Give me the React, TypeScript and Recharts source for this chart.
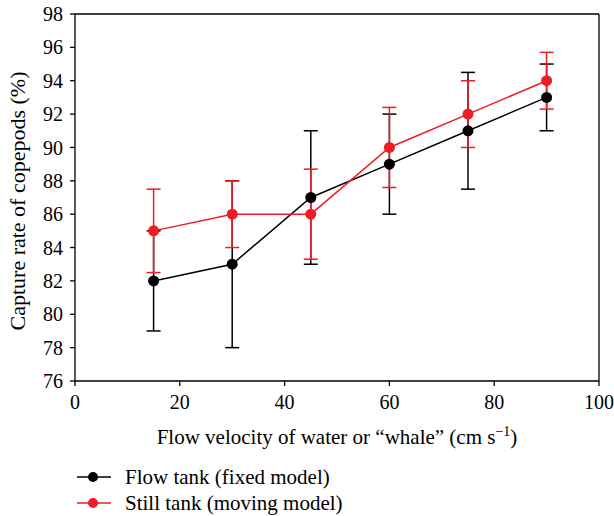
import {
  LineChart,
  Line,
  XAxis,
  YAxis,
  ErrorBar,
  Legend,
  ReferenceLine,
} from 'recharts';

const FONT = '"Liberation Serif", "Times New Roman", serif';
const RED = '#ee1c25';

// flow velocity (cm/s)
const velocities = [15, 30, 45, 60, 75, 90];
// capture rate (%) and +/- error
const flowTank = [82, 83, 87, 89, 91, 93];
const flowTankErr = [3, 5, 4, 3, 3.5, 2];
const stillTank = [85, 86, 86, 90, 92, 94];
const stillTankErr = [2.5, 2, 2.7, 2.4, 2, 1.7];

const xTicks = [0, 20, 40, 60, 80, 100];
const yTicks = [76, 78, 80, 82, 84, 86, 88, 90, 92, 94, 96, 98];

const data = velocities.map((v, i) => ({
  v,
  flow: flowTank[i],
  flowErr: flowTankErr[i],
  still: stillTank[i],
  stillErr: stillTankErr[i],
}));

const tickStyle = { fill: '#000', fontSize: 20, fontFamily: FONT };

function XLabel(props: any) {
  const { viewBox } = props;
  const cx = viewBox.x + viewBox.width / 2;
  return (
    <text x={cx} y={444} textAnchor="middle" fontSize={21} fontFamily={FONT} fill="#000">
      Flow velocity of water or “whale” (cm s
      <tspan fontSize={14} dy={-8}>−1</tspan>
      <tspan dy={8}>)</tspan>
    </text>
  );
}

function YLabel() {
  const cy = 201;
  return (
    <text
      x={25}
      y={cy}
      transform={`rotate(-90, 25, ${cy})`}
      textAnchor="middle"
      fontSize={22}
      fontFamily={FONT}
      fill="#000"
    >
      Capture rate of copepods (%)
    </text>
  );
}

function LegendContent(props: any) {
  const { payload } = props;
  return (
    <div style={{ fontFamily: FONT, fontSize: 21, color: '#000' }}>
      {(payload || []).map((p: any) => (
        <div key={p.value} style={{ display: 'flex', alignItems: 'center', height: 26 }}>
          <svg width={36} height={12}>
            <line x1={0} x2={34} y1={6} y2={6} stroke={p.color} strokeWidth={1.5} />
            <circle cx={16} cy={6} r={5} fill={p.color} />
          </svg>
          <span style={{ marginLeft: 12 }}>{p.value}</span>
        </div>
      ))}
    </div>
  );
}

export default function App() {
  return (
    <div style={{ position: 'absolute', left: 0, top: 0 }}>
      <LineChart width={614} height={516} data={data} margin={{ top: 14, right: 15, bottom: 0, left: 0 }}>
        <XAxis
          dataKey="v"
          type="number"
          domain={[0, 100]}
          ticks={xTicks}
          height={135}
          tickSize={5}
          tickMargin={9}
          tick={tickStyle}
          axisLine={{ stroke: '#000', strokeWidth: 1.3 }}
          tickLine={{ stroke: '#000', strokeWidth: 1.3 }}
          label={<XLabel />}
        />
        <YAxis
          type="number"
          domain={[76, 98]}
          ticks={yTicks}
          width={75}
          tickSize={5}
          tickMargin={7}
          tick={tickStyle}
          axisLine={{ stroke: '#000', strokeWidth: 1.3 }}
          tickLine={{ stroke: '#000', strokeWidth: 1.3 }}
          label={<YLabel />}
        />
        <ReferenceLine y={98} stroke="#000" strokeWidth={1.3} />
        <ReferenceLine x={100} stroke="#000" strokeWidth={1.3} />
        <Line
          dataKey="flow"
          name="Flow tank (fixed model)"
          stroke="#000"
          strokeWidth={1.5}
          dot={{ r: 5.5, fill: '#000', stroke: '#000', strokeWidth: 0 }}
          activeDot={false}
          isAnimationActive={false}
        >
          <ErrorBar dataKey="flowErr" direction="y" width={7} stroke="#000" strokeWidth={1.5} isAnimationActive={false} />
        </Line>
        <Line
          dataKey="still"
          name="Still tank (moving model)"
          stroke={RED}
          strokeWidth={1.5}
          dot={{ r: 5.5, fill: RED, stroke: RED, strokeWidth: 0 }}
          activeDot={false}
          isAnimationActive={false}
        >
          <ErrorBar dataKey="stillErr" direction="y" width={7} stroke={RED} strokeWidth={1.5} isAnimationActive={false} />
        </Line>
        <Legend
          layout="vertical"
          align="center"
          verticalAlign="middle"
          wrapperStyle={{ left: 77, top: 464, width: 320 }}
          content={<LegendContent />}
        />
      </LineChart>
    </div>
  );
}
